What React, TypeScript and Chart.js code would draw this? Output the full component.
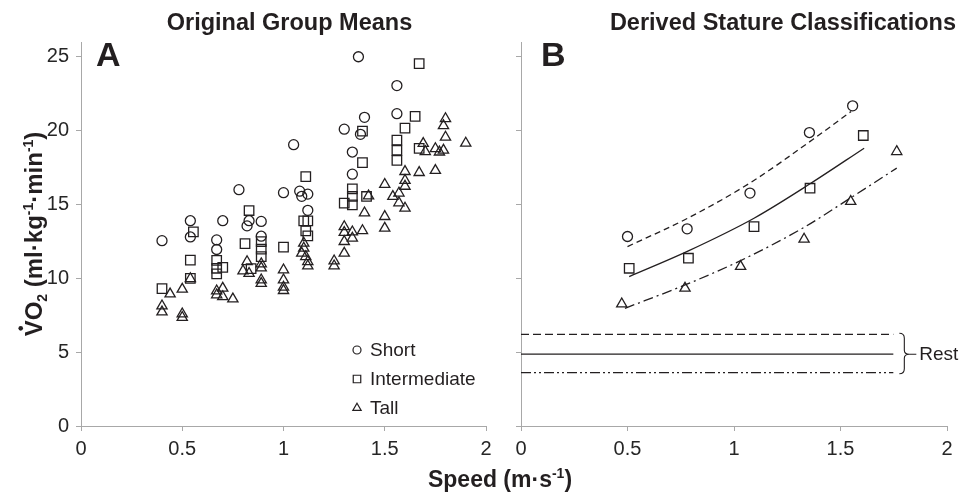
import React, { useEffect, useRef } from 'react';
import { Chart, registerables } from 'chart.js';

Chart.register(...registerables);

const FONT = '"Liberation Sans", Arial, Helvetica, sans-serif';
const INK = '#231f20';
const TICK_INK = '#262626';
const AXIS = '#a8a8a8';

const panelTitles = ['Original Group Means', 'Derived Stature Classifications'];
const panelLetters = ['A', 'B'];
const seriesNames = ['Short', 'Intermediate', 'Tall'];
const restLabel = 'Rest';

// Panel A: original group means [speed m/s, VO2]
const groupShort: [number, number][] = [
  [0.40, 12.55], [0.54, 13.9], [0.54, 12.8], [0.67, 12.6], [0.67, 11.95],
  [0.70, 13.9], [0.78, 16.0], [0.82, 13.55], [0.83, 13.9], [0.89, 13.85],
  [0.89, 12.85], [1.00, 15.8], [1.05, 19.05], [1.08, 15.9], [1.09, 15.55],
  [1.12, 15.7], [1.12, 14.6], [1.30, 20.1], [1.34, 18.55], [1.34, 17.05],
  [1.37, 25.0], [1.38, 19.75], [1.40, 20.9], [1.56, 23.05], [1.56, 21.15],
];

const groupIntermediate: [number, number][] = [
  [0.40, 9.3], [0.54, 11.23], [0.54, 9.99], [0.555, 13.14], [0.67, 11.21],
  [0.67, 10.68], [0.70, 10.74], [0.67, 10.3], [0.81, 12.35], [0.83, 14.59],
  [0.84, 10.66], [0.89, 12.49], [0.89, 11.97], [0.89, 11.47], [1.00, 12.11],
  [1.11, 16.89], [1.10, 13.89], [1.12, 13.89], [1.11, 13.21], [1.12, 12.87],
  [1.30, 15.09], [1.34, 16.06], [1.34, 15.54], [1.34, 14.97], [1.41, 15.54],
  [1.39, 19.97], [1.39, 17.83], [1.56, 19.36], [1.56, 18.67], [1.56, 17.99],
  [1.60, 20.17], [1.65, 20.96], [1.67, 18.8], [1.67, 24.53],
];

const groupTall: [number, number][] = [
  [0.40, 8.13], [0.40, 7.72], [0.44, 8.94], [0.50, 9.26], [0.50, 7.59],
  [0.50, 7.35], [0.54, 9.98], [0.67, 9.15], [0.67, 8.88], [0.70, 9.33],
  [0.70, 8.76], [0.75, 8.6], [0.82, 11.13], [0.80, 10.5], [0.83, 10.33],
  [0.89, 10.98], [0.89, 10.7], [0.89, 9.89], [0.89, 9.65], [1.00, 10.57],
  [1.00, 9.89], [1.00, 9.4], [1.00, 9.17], [1.10, 12.38], [1.10, 12.04],
  [1.09, 11.7], [1.11, 11.47], [1.12, 11.13], [1.12, 10.84], [1.25, 11.18],
  [1.25, 10.84], [1.30, 13.5], [1.30, 13.1], [1.34, 13.14], [1.30, 12.49],
  [1.34, 12.72], [1.30, 11.7], [1.39, 13.23], [1.40, 14.43], [1.42, 15.58],
  [1.50, 16.36], [1.50, 14.18], [1.50, 13.39], [1.54, 15.54], [1.57, 15.77],
  [1.57, 15.11], [1.60, 14.75], [1.60, 17.23], [1.60, 16.63], [1.60, 16.23],
  [1.67, 17.16], [1.75, 17.3], [1.69, 19.13], [1.70, 18.58], [1.75, 18.78],
  [1.77, 18.55], [1.79, 18.67], [1.80, 20.81], [1.79, 20.33], [1.80, 19.56],
  [1.90, 19.15],
];

// Panel B: derived stature classifications
const derivedShort: [number, number][] = [
  [0.50, 12.83], [0.78, 13.35], [1.075, 15.77], [1.354, 19.87], [1.557, 21.68],
];
const derivedIntermediate: [number, number][] = [
  [0.508, 10.68], [0.786, 11.36], [1.094, 13.5], [1.357, 16.1], [1.607, 19.67],
];
const derivedTall: [number, number][] = [
  [0.473, 8.27], [0.77, 9.33], [1.031, 10.8], [1.329, 12.65], [1.548, 15.2], [1.764, 18.58],
];

// fitted curves
const fitShort: [number, number][] = [
  [0.50, 12.15], [0.78, 14.05], [1.08, 16.5], [1.37, 19.4], [1.55, 21.3],
];
const fitIntermediate: [number, number][] = [
  [0.508, 10.12], [0.786, 11.86], [1.094, 14.07], [1.357, 16.4], [1.611, 18.81],
];
const fitTall: [number, number][] = [
  [0.488, 7.97], [0.77, 9.55], [1.031, 11.2], [1.329, 13.45], [1.548, 15.45], [1.764, 17.46],
];

// resting values (horizontal lines)
const restValues = [6.21, 4.86, 3.61];
const restSpan = [0, 1.748];

const toXY = (arr: [number, number][]) => arr.map(([x, y]) => ({ x, y }));

const pointDs = (label: string, data: [number, number][], style: string, radius: number) => ({
  label,
  data: toXY(data),
  pointStyle: style,
  pointRadius: radius,
  pointBorderWidth: 1.3,
  pointBorderColor: INK,
  pointBackgroundColor: 'rgba(0,0,0,0)',
  borderColor: INK,
  backgroundColor: 'rgba(0,0,0,0)',
  showLine: false,
});

const lineDs = (label: string, data: { x: number; y: number }[], dash: number[]) => ({
  label,
  data,
  showLine: true,
  pointRadius: 0,
  borderColor: INK,
  borderWidth: 1.3,
  borderDash: dash,
  cubicInterpolationMode: 'monotone',
  fill: false,
});

const tickFont = { family: FONT, size: 20 };

function makeScales(showYLabels: boolean, yWidth: number) {
  return {
    x: {
      type: 'linear',
      min: 0,
      max: 2,
      ticks: {
        stepSize: 0.5,
        font: tickFont,
        color: TICK_INK,
        padding: 6,
        maxRotation: 0,
        callback: (v: any) => String(Number(v)),
      },
      grid: { drawOnChartArea: false, drawTicks: true, tickLength: 5, color: AXIS },
      border: { color: AXIS, width: 1 },
      afterFit: (s: any) => { s.height = 67; },
    },
    y: {
      type: 'linear',
      min: 0,
      max: 26,
      ticks: {
        stepSize: 5,
        includeBounds: false,
        display: showYLabels,
        font: tickFont,
        color: TICK_INK,
        padding: 7,
        callback: (v: any) => String(Number(v)),
      },
      grid: { drawOnChartArea: false, drawTicks: true, tickLength: 5, color: AXIS },
      border: { color: AXIS, width: 1 },
      afterFit: (s: any) => { s.width = yWidth; },
    },
  };
}

function drawMarker(ctx: CanvasRenderingContext2D, style: string, x: number, y: number, r: number) {
  ctx.beginPath();
  if (style === 'circle') {
    ctx.arc(x, y, r, 0, Math.PI * 2);
  } else if (style === 'rect') {
    const h = r * Math.SQRT1_2;
    ctx.rect(x - h, y - h, 2 * h, 2 * h);
  } else {
    const a = Math.PI / 6;
    ctx.moveTo(x, y - r);
    ctx.lineTo(x + Math.cos(a) * r, y + Math.sin(a) * r);
    ctx.lineTo(x - Math.cos(a) * r, y + Math.sin(a) * r);
    ctx.closePath();
  }
  ctx.stroke();
}

type Seg = { t: string; k: 'n' | 'sub' | 'sup' };

function drawRich(ctx: CanvasRenderingContext2D, segs: Seg[], cx: number, y: number, size: number, dotOnFirst: boolean) {
  const big = `bold ${size}px ${FONT}`;
  const small = `bold ${Math.round(size * 0.6)}px ${FONT}`;
  let w = 0;
  for (const s of segs) {
    ctx.font = s.k === 'n' ? big : small;
    w += ctx.measureText(s.t).width;
  }
  let x = cx - w / 2;
  ctx.textAlign = 'left';
  ctx.textBaseline = 'alphabetic';
  segs.forEach((s, i) => {
    ctx.font = s.k === 'n' ? big : small;
    const dy = s.k === 'sub' ? size * 0.22 : s.k === 'sup' ? -size * 0.38 : 0;
    const sw = ctx.measureText(s.t).width;
    ctx.fillText(s.t, x, y + dy);
    if (i === 0 && dotOnFirst) {
      ctx.beginPath();
      ctx.arc(x + sw / 2, y - size * 0.72 - 4, 2.3, 0, Math.PI * 2);
      ctx.fill();
    }
    x += sw;
  });
}

const yTitle: Seg[] = [
  { t: 'V', k: 'n' }, { t: 'O', k: 'n' }, { t: '2', k: 'sub' },
  { t: ' (ml·kg', k: 'n' }, { t: '-1', k: 'sup' }, { t: '·min', k: 'n' },
  { t: '-1', k: 'sup' }, { t: ')', k: 'n' },
];
const xTitle: Seg[] = [
  { t: 'Speed (m·s', k: 'n' }, { t: '-1', k: 'sup' }, { t: ')', k: 'n' },
];

const legendStyles = ['circle', 'rect', 'triangle'];
const legendRadii = [4, 5.3, 4.8];

const overlayA = {
  id: 'overlayA',
  afterDraw(chart: any) {
    const ctx: CanvasRenderingContext2D = chart.ctx;
    const area = chart.chartArea;
    ctx.save();
    ctx.fillStyle = INK;
    ctx.font = `bold 23.5px ${FONT}`;
    ctx.textAlign = 'center';
    ctx.textBaseline = 'alphabetic';
    ctx.fillText(panelTitles[0], (area.left + area.right) / 2 + 6, 30);
    ctx.font = `bold 34px ${FONT}`;
    ctx.textAlign = 'left';
    ctx.fillText(panelLetters[0], area.left + 15, 66);

    // y axis title
    ctx.save();
    ctx.translate(42, (area.top + area.bottom) / 2);
    ctx.rotate(-Math.PI / 2);
    drawRich(ctx, yTitle, 0, 0, 24, true);
    ctx.restore();

    // x axis title (shared)
    drawRich(ctx, xTitle, 500, 487, 23, false);

    // legend
    ctx.strokeStyle = INK;
    ctx.lineWidth = 1.2;
    ctx.font = `19px ${FONT}`;
    ctx.textBaseline = 'middle';
    ctx.textAlign = 'left';
    seriesNames.forEach((name, i) => {
      const yy = 350 + i * 29;
      drawMarker(ctx, legendStyles[i], 357, yy, legendRadii[i]);
      ctx.fillText(name, 370, yy + 1);
    });
    ctx.restore();
  },
};

const overlayB = {
  id: 'overlayB',
  afterDraw(chart: any) {
    const ctx: CanvasRenderingContext2D = chart.ctx;
    const area = chart.chartArea;
    const xs = chart.scales.x;
    const ys = chart.scales.y;
    ctx.save();
    ctx.fillStyle = INK;
    ctx.font = `bold 23.5px ${FONT}`;
    ctx.textAlign = 'right';
    ctx.textBaseline = 'alphabetic';
    ctx.fillText(panelTitles[1], area.right + 9, 30);
    ctx.font = `bold 34px ${FONT}`;
    ctx.textAlign = 'left';
    ctx.fillText(panelLetters[1], area.left + 20, 66);

    // bracket for rest lines
    const top = ys.getPixelForValue(restValues[0]) - 1;
    const bot = ys.getPixelForValue(restValues[2]) + 1;
    const mid = ys.getPixelForValue(restValues[1]);
    const bx = xs.getPixelForValue(restSpan[1]) + 6;
    ctx.strokeStyle = INK;
    ctx.lineWidth = 1.1;
    ctx.beginPath();
    ctx.moveTo(bx, top);
    ctx.quadraticCurveTo(bx + 5, top, bx + 5, top + 5);
    ctx.lineTo(bx + 5, mid - 4);
    ctx.quadraticCurveTo(bx + 5, mid, bx + 10, mid);
    ctx.quadraticCurveTo(bx + 5, mid, bx + 5, mid + 4);
    ctx.lineTo(bx + 5, bot - 5);
    ctx.quadraticCurveTo(bx + 5, bot, bx, bot);
    ctx.moveTo(bx + 10, mid);
    ctx.lineTo(bx + 17, mid);
    ctx.stroke();
    ctx.font = `19px ${FONT}`;
    ctx.textBaseline = 'middle';
    ctx.fillText(restLabel, bx + 20, mid + 1);
    ctx.restore();
  },
};

export default function App() {
  const refA = useRef<HTMLCanvasElement>(null);
  const refB = useRef<HTMLCanvasElement>(null);

  useEffect(() => {
    const common = {
      animation: false,
      responsive: false,
      events: [],
      plugins: { legend: { display: false }, tooltip: { enabled: false }, title: { display: false } },
    };
    const chartA = new Chart(refA.current as HTMLCanvasElement, {
      type: 'scatter',
      data: {
        datasets: [
          pointDs(seriesNames[0], groupShort, 'circle', 5),
          pointDs(seriesNames[1], groupIntermediate, 'rect', 6.7),
          pointDs(seriesNames[2], groupTall, 'triangle', 5.9),
        ] as any,
      },
      options: {
        ...common,
        layout: { padding: { left: 0, top: 42, right: 475, bottom: 0 } },
        scales: makeScales(true, 81) as any,
      } as any,
      plugins: [overlayA],
    });

    const restData = restValues.map((v) => restSpan.map((x) => ({ x, y: v })));
    const chartB = new Chart(refB.current as HTMLCanvasElement, {
      type: 'scatter',
      data: {
        datasets: [
          pointDs(seriesNames[0], derivedShort, 'circle', 5),
          pointDs(seriesNames[1], derivedIntermediate, 'rect', 6.7),
          pointDs(seriesNames[2], derivedTall, 'triangle', 5.9),
          lineDs('Short fit', toXY(fitShort), [6, 4]),
          lineDs('Intermediate fit', toXY(fitIntermediate), []),
          lineDs('Tall fit', toXY(fitTall), [10, 4, 2, 4]),
          lineDs('Short rest', restData[0], [8, 4]),
          lineDs('Intermediate rest', restData[1], []),
          lineDs('Tall rest', restData[2], [10, 3, 2, 3, 2, 3]),
        ] as any,
      },
      options: {
        ...common,
        layout: { padding: { left: 500, top: 42, right: 14, bottom: 0 } },
        scales: makeScales(false, 21) as any,
      } as any,
      plugins: [overlayB],
    });

    return () => {
      chartA.destroy();
      chartB.destroy();
    };
  }, []);

  const canvasStyle: React.CSSProperties = { position: 'absolute', left: 0, top: 0, width: 961, height: 493 };
  return (
    <div style={{ position: 'fixed', left: 0, top: 0, width: 961, height: 493, background: '#ffffff' }}>
      <canvas ref={refA} width={961} height={493} style={canvasStyle} />
      <canvas ref={refB} width={961} height={493} style={canvasStyle} />
    </div>
  );
}
